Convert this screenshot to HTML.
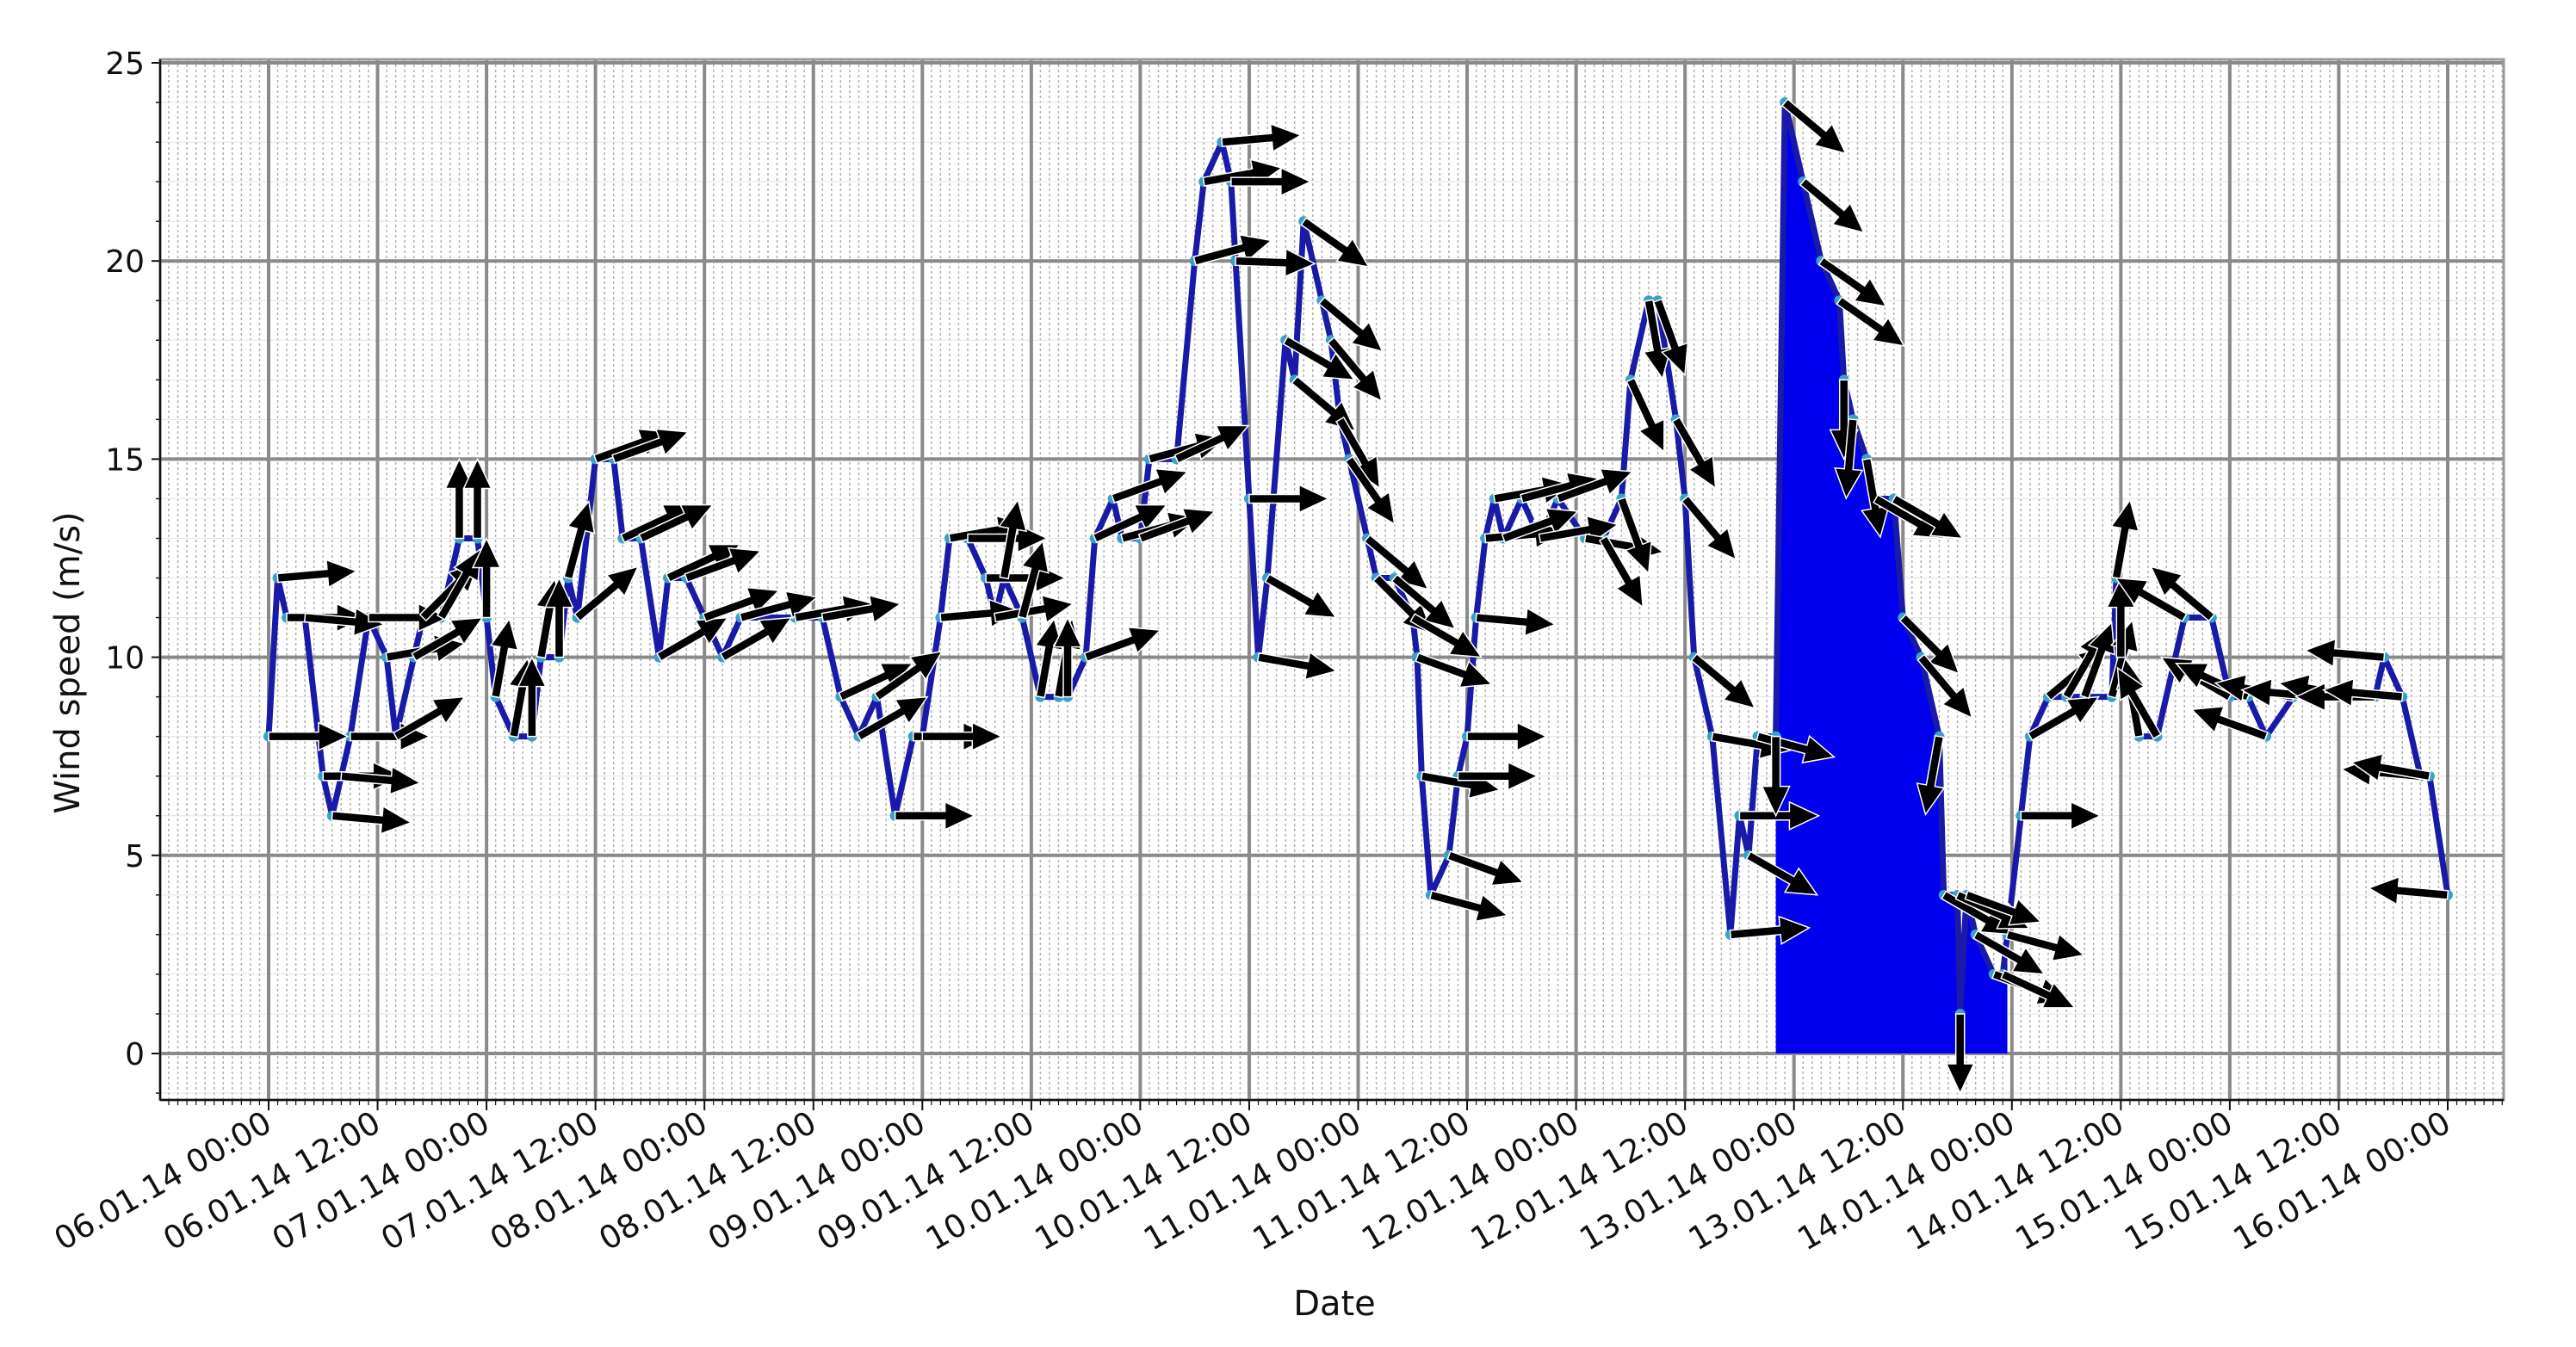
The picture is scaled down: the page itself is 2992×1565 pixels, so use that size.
<!DOCTYPE html>
<html><head><meta charset="utf-8">
<style>
html,body{margin:0;padding:0;background:#fff;}
svg{display:block;font-family:"DejaVu Sans","Liberation Sans",sans-serif;}
</style></head>
<body>
<svg id="chart" width="2992" height="1565" viewBox="0 0 2992 1565" xmlns="http://www.w3.org/2000/svg">
<rect x="0" y="0" width="2992" height="1565" fill="#fff"/>
<g id="grid"></g>
<g id="fill"></g>
<g id="line"></g>
<g id="arrows"></g>
<g id="axes"></g>
<text x="0" y="0" transform="translate(92,770) rotate(-90)" text-anchor="middle" font-size="40" fill="#111">Wind speed (m/s)</text>
<text x="1550" y="1528" text-anchor="middle" font-size="40" fill="#111">Date</text>
</svg>
<script>
// ---- data ----
const hours = [0,1,2,4,6,7,8,9,11,13,14,16,17,19,21,23,24,25,27,29,30,32,33,34,36,38,39,41,43,44,46,48,50,52,58,61,63,65,67,69,71,72,74,75,77,79,80,81,83,85,87,88,90,91,93,94,96,97,100,102,103,105,106,106.5,108,109,110,112,113,114,116,117,118,119,121,122,124,126,126.5,127,128,130,131,132,133,134,135,136,138,140,142,145,147,149,150,152,153,155,156,157,159,161,162,163,164,166,167,169,171,173,173.5,174.5,176,177,179,180,182,184,184.5,186,186.3,187,188,190,191,191.5,193,194,196,198,200,203,203.5,204,206,208,211,214,216,218,220,223,226,230,232,233,235,237,238,240];
const speeds = [8,12,11,11,7,6,7,8,11,10,8,10,11,11,13,13,11,9,8,8,10,10,12,11,15,15,13,13,10,12,12,11,10,11,11,11,9,8,9,6,8,8,11,13,13,12,11,12,11,9,9,9,10,13,14,13,13,15,15,20,22,23,22,20,14,10,12,18,17,21,19,18,16,15,13,12,12,11,10,7,4,5,7,8,11,13,14,13,14,13,14,13,13,14,17,19,19,16,14,10,8,3,6,5,8,8,24,22,20,19,17,16,15,14,14,11,10,8,4,4,1,4,3,2,2,3,6,8,9,9,9,9,12,10,8,8,11,11,9,9,8,9,9,9,9,10,9,7,7,4];
const directions = [0,5,0,-5,0,-5,-5,0,0,10,30,30,45,60,90,90,90,80,80,90,80,90,75,40,20,20,25,25,30,25,20,20,30,15,10,10,25,30,35,0,0,0,5,10,0,0,10,80,75,80,80,90,20,25,20,15,20,15,25,15,10,5,0,-2,0,-10,-30,-30,-40,-35,-40,-50,-60,-55,-40,-45,-40,-30,-20,-10,-15,-20,0,0,-5,5,10,20,15,10,20,-10,-60,-70,-65,-80,-70,-60,-50,-40,-10,5,0,-30,-15,-90,-40,-40,-35,-35,-90,-95,-80,-30,-30,-45,-50,-100,-30,-25,-90,-20,-30,-20,-25,-15,0,30,40,60,70,75,80,90,100,120,150,140,150,155,160,170,175,170,180,175,175,175,170,175,180];
const yTicks = [0,5,10,15,20,25];
const dayLabels = ["06.01.14","07.01.14","08.01.14","09.01.14","10.01.14","11.01.14","12.01.14","13.01.14","14.01.14","15.01.14","16.01.14"];
const fillStart = 166, fillEnd = 191.5;

// ---- axes ----
const L=186,R=2908,T=69,B=1278;
const X0=312, PXH=253.1/24;
const Y0=1224, PXU=46.04;
const xs=h=>X0+h*PXH, ys=v=>Y0-v*PXU;
const NS="http://www.w3.org/2000/svg";
function mk(tag,attrs,parent){const e=document.createElementNS(NS,tag);for(const k in attrs)e.setAttribute(k,attrs[k]);parent.appendChild(e);return e;}
const grid=document.getElementById('grid'), axes=document.getElementById('axes');
for(let h=-12;h<=258;h++){const x=xs(h);if(x<L||x>R)continue;if(h%12===0)continue;
 const l=mk('line',{x1:x,y1:T,x2:x,y2:B,stroke:'#b0b0b0','stroke-width':1.5,'stroke-dasharray':'3,3'},grid);
 
 }
for(let v=-1;v<=25;v++){if(v%5===0)continue;const y=ys(v);if(y<T||y>B)continue;
 const l=mk('line',{x1:L,y1:y,x2:R,y2:y,stroke:'#e4e4e4','stroke-width':1},grid);
 
 }
for(let h=-12;h<=258;h+=12){const x=xs(h);if(x<L||x>R)continue;
 const l=mk('line',{x1:x,y1:T,x2:x,y2:B,stroke:'#8a8a8a','stroke-width':4},grid);
 
 }
yTicks.forEach(v=>{const y=ys(v);
 const l=mk('line',{x1:L,y1:y,x2:R,y2:y,stroke:'#8a8a8a','stroke-width':4},grid);
 
 
 const t=mk('text',{x:L-18,y:y+13,'text-anchor':'end','font-size':36,fill:'#111'},axes);t.textContent=v;
 
 
 mk('line',{x1:L-10,y1:y,x2:L,y2:y,stroke:'#111','stroke-width':2},axes);});
for(let v=-1;v<=25;v++){mk('line',{x1:L-5,y1:ys(v),x2:L,y2:ys(v),stroke:'#111','stroke-width':1.5},axes);}
const fr=mk('rect',{x:L,y:T,width:R-L,height:B-T,fill:'none',stroke:'#999','stroke-width':3},axes);


mk('line',{x1:L,y1:T,x2:L,y2:B,stroke:'#111','stroke-width':2.5},axes);
mk('line',{x1:L,y1:B,x2:R,y2:B,stroke:'#111','stroke-width':2.5},axes);
for(let h=-12;h<=258;h+=1){const x=xs(h);if(x<L||x>R)continue;
 mk('line',{x1:x,y1:B,x2:x,y2:B+(h%12===0?12:6),stroke:'#111','stroke-width':h%12===0?2:1.2},axes);}
for(let i=0;i<=20;i++){const h=i*12;const x=xs(h);
 const lab=dayLabels[Math.floor(i/2)]+(i%2?" 12:00":" 00:00");
 const t=mk('text',{x:0,y:0,'text-anchor':'end','font-size':37,fill:'#111',transform:`translate(${x+6},${B+34}) rotate(-30)`},axes);
 t.textContent=lab;
 
 }
const fg=document.getElementById('fill');
let pts=[];const idx=[];hours.forEach((h,i)=>{if(h>=fillStart&&h<=fillEnd)idx.push(i);});
pts.push(`${xs(hours[idx[0]])},${ys(0)}`);
idx.forEach(i=>pts.push(`${xs(hours[i])},${ys(speeds[i])}`));
pts.push(`${xs(hours[idx[idx.length-1]])},${ys(0)}`);
const poly=mk('polygon',{points:pts.join(' '),fill:'#0000ee'},fg);


const lg=document.getElementById('line');
const pl=mk('polyline',{points:hours.map((h,i)=>`${xs(h)},${ys(speeds[i])}`).join(' '),fill:'none',stroke:'#1a1aa8','stroke-width':7,'stroke-linejoin':'round'},lg);


hours.forEach((h,i)=>{const c=mk('circle',{cx:xs(h),cy:ys(speeds[i]),r:6,fill:'#3aa0c8'},lg);
 
 });
const ag=document.getElementById('arrows');
hours.forEach((h,i)=>{const x=xs(h),y=ys(speeds[i]);const a=directions[i];
 const g=mk('g',{transform:`translate(${x},${y}) rotate(${-a})`},ag);
 
 
 mk('path',{d:'M0,-5 L58,-5 L58,-16 L92,0 L58,16 L58,5 L0,5 Z',fill:'#000',stroke:'#fff','stroke-width':1.5},g);});
</script>
</body></html>
